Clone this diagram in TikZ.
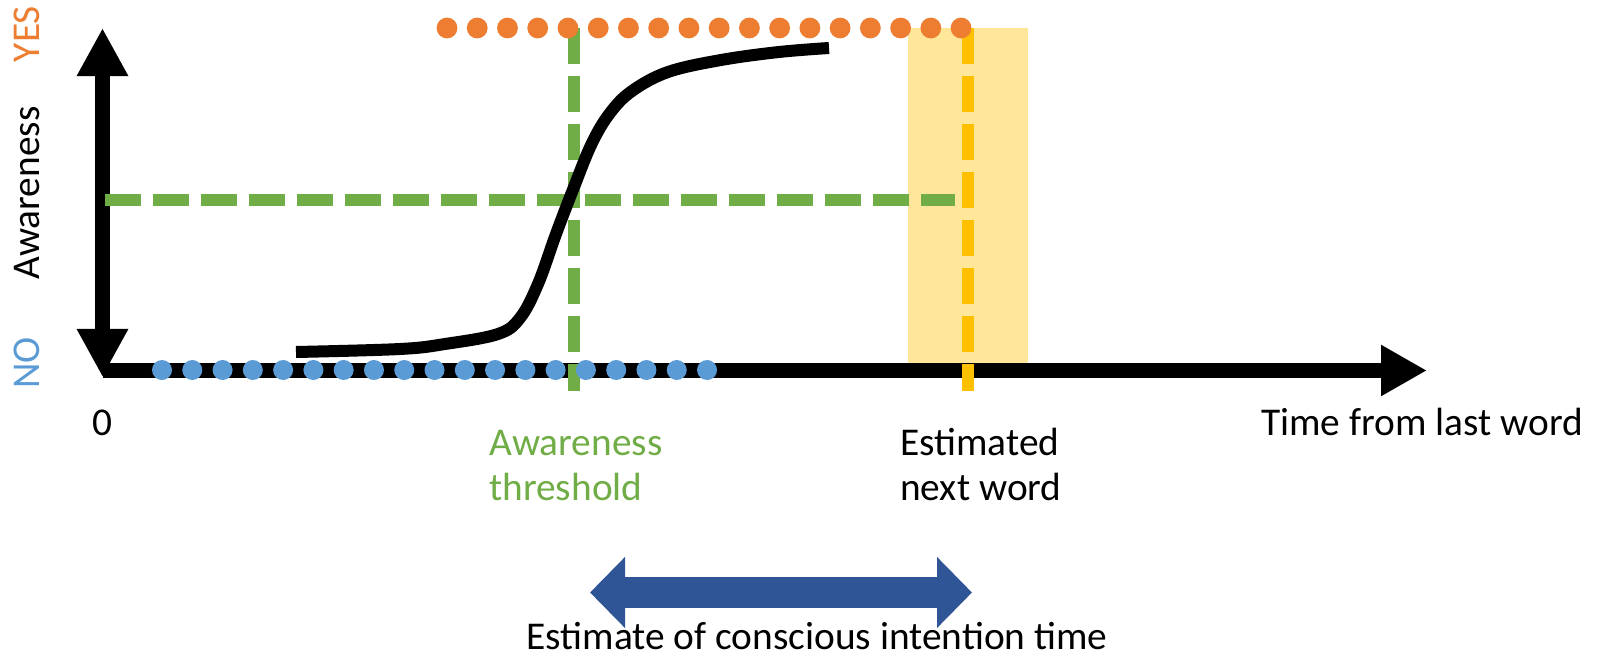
\documentclass[tikz,border=0pt]{standalone}
\usepackage{fontspec}
\setmainfont{Carlito}
\usetikzlibrary{arrows.meta}

\definecolor{yes orange}{HTML}{ED7D31}
\definecolor{no blue}{HTML}{5B9BD5}
\definecolor{threshold green}{HTML}{70AD47}
\definecolor{word yellow}{HTML}{FFC000}
\definecolor{band yellow}{HTML}{FFE699}
\definecolor{span blue}{HTML}{2F5597}

\tikzset{
	axis line/.style = {line width=0.375cm, {Triangle[length=1.2cm, width=1.2cm]}-{Triangle[length=1.2cm, width=1.2cm]}},
	guide/.style = {line width=0.28cm, dash pattern=on 0.9cm off 0.3cm},
	words/.style = {font=\fontsize{28}{32}\selectfont, inner sep=0pt}
}

\begin{document}
\begin{tikzpicture}[x=0.025cm, y=-0.025cm]
		\useasboundingbox (0,0) rectangle (1604,657);
		
		\coordinate (O) at (102.5, 370.5);
		\coordinate (y top) at (102.5, 28);
		\coordinate (y bottom) at (102.5, 377);
		\coordinate (x end) at (1427, 370.5);
		
		\coordinate (threshold top) at (574, 28);
		\coordinate (threshold bottom) at (574, 391);
		\coordinate (threshold left) at (105, 200);
		\coordinate (threshold right) at (955, 200);
		\coordinate (word top) at (968, 28);
		\coordinate (word bottom) at (968, 391);
		
		% window round the next word
		\fill [band yellow] (908, 28) rectangle (1028, 363);
		
		\draw [axis line] (y bottom) -- (y top);
		\draw [line width=0.375cm, -{Triangle[length=1.15cm, width=1.2cm]}] (O) -- (x end);
		
		\draw [guide, threshold green] (threshold left) -- (threshold right);
		\draw [guide, threshold green] (threshold top) -- (threshold bottom);
		\draw [guide, word yellow] (word top) -- (word bottom);
		
		% NO and YES levels
		\foreach \i in {0,...,18}
			\fill [no blue] ({162+30.28*\i}, 370) circle [radius=0.25cm];
		\foreach \i in {0,...,17}
			\fill [yes orange] ({447+30.24*\i}, 28) circle [radius=0.26cm];
		
		\draw [line width=0.3cm] plot [smooth, tension=0.6] coordinates {(296,352) (400,349) (445,344) (498,334) (520,318) (538,284) (556,234) (574,187) (592,143) (610,113) (632,91) (668,72) (721,60) (779,52) (829,48)};
		
		\node [words, rotate=90, text=yes orange] (yes) at (27, 34) {YES};
		\node [words, rotate=90] (awareness) at (27, 193) {Awareness};
		\node [words, rotate=90, text=no blue] (no) at (27, 363) {NO};
		
		\node [words, anchor=base] (zero) at (102, 435) {0};
		\node [words, anchor=base west] (time) at (1261, 435) {Time from last word};
		\node [words, anchor=base west, align=left, text=threshold green] (threshold) at (489, 500) {Awareness\\threshold};
		\node [words, anchor=base west, align=left] (next word) at (900, 500) {Estimated\\next word};
		
		\coordinate (span left) at (590, 592.5);
		\coordinate (span right) at (972, 592.5);
		\draw [span blue, line width=0.775cm, {Triangle[length=0.875cm, width=1.725cm]}-{Triangle[length=0.875cm, width=1.725cm]}] (span left) -- (span right);
		\node [words, anchor=base] (span) at (817, 649) {Estimate of conscious intention time};
	\end{tikzpicture}
\end{document}
